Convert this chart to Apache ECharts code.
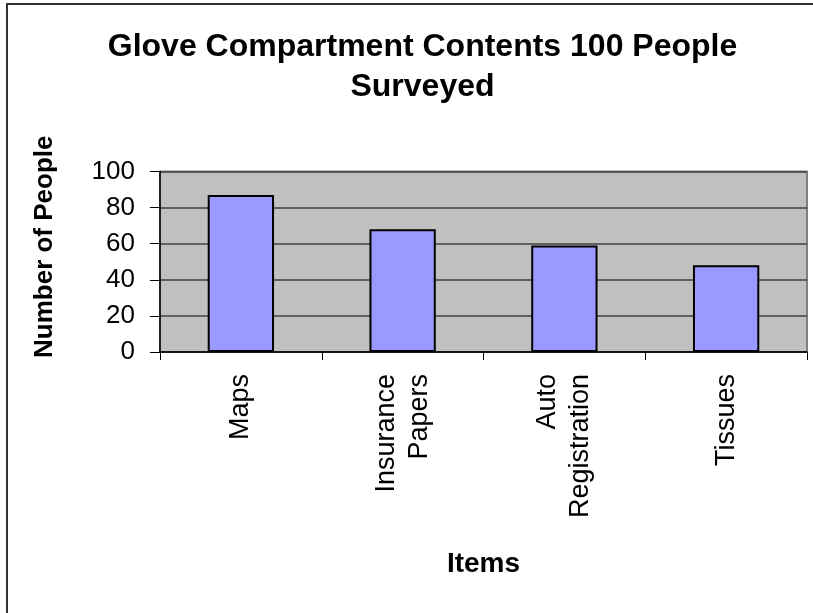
<!DOCTYPE html>
<html>
<head>
<meta charset="utf-8">
<script src="https://cdn.jsdelivr.net/npm/echarts@6/dist/echarts.min.js"></script>
<style>
html,body{margin:0;padding:0;background:#fff;}
#chart{width:813px;height:613px;}
</style>
</head>
<body>
<div id="chart"></div>
<script>
var categories = ['Maps', 'Insurance\nPapers', 'Auto\nRegistration', 'Tissues'];
var values = [87, 68, 59, 48];
var yTicks = [0, 20, 40, 60, 80, 100];
var titleText = 'Glove Compartment Contents 100 People\nSurveyed';
var xName = 'Items';
var yName = 'Number of People';

var FONT = '"Liberation Sans", Arial, sans-serif';
var chart = echarts.init(document.getElementById('chart'), null, {renderer: 'canvas'});
chart.setOption({
  animation: false,
  backgroundColor: '#ffffff',
  title: {
    text: titleText,
    left: 417.5,
    top: 22,
    textAlign: 'center',
    textStyle: {fontFamily: FONT, fontSize: 32, fontWeight: 'bold', color: '#000', lineHeight: 40}
  },
  graphic: [{
    type: 'rect',
    shape: {x: 7, y: 4, width: 1000, height: 1000},
    style: {fill: 'none', stroke: '#333', lineWidth: 2},
    silent: true
  }],
  grid: {
    left: 160, right: 6, top: 171.5, bottom: 261,
    show: true, backgroundColor: '#c0c0c0', borderColor: '#808080', borderWidth: 2
  },
  xAxis: {
    type: 'category',
    data: categories,
    name: xName,
    nameLocation: 'middle',
    nameGap: 198,
    nameTextStyle: {fontFamily: FONT, fontSize: 28, fontWeight: 'bold', color: '#000'},
    axisLine: {lineStyle: {color: '#000', width: 1.5}},
    axisTick: {show: true, length: 8, lineStyle: {color: '#000', width: 1}},
    axisLabel: {rotate: 90, fontFamily: FONT, fontSize: 27, color: '#000', margin: 22, lineHeight: 33, interval: 0}
  },
  yAxis: {
    type: 'value',
    min: 0, max: 100, interval: 20,
    name: yName,
    nameLocation: 'middle',
    nameGap: 102,
    nameTextStyle: {fontFamily: FONT, fontSize: 26, fontWeight: 'bold', color: '#000', padding: [0, 0, 0, 30]},
    axisLine: {show: true, lineStyle: {color: '#000', width: 1.5}},
    axisTick: {show: true, length: 10, lineStyle: {color: '#000', width: 1}},
    axisLabel: {
      fontFamily: FONT, fontSize: 26, color: '#000', margin: 25,
      formatter: function (v) { return yTicks.indexOf(v) >= 0 ? String(v) : ''; }
    },
    splitLine: {show: true, lineStyle: {color: '#404040', width: 1.5}}
  },
  series: [{
    type: 'bar',
    data: values,
    barWidth: '41%',
    itemStyle: {color: '#9999ff', borderColor: '#000', borderWidth: 2}
  }]
});
</script>
</body>
</html>
